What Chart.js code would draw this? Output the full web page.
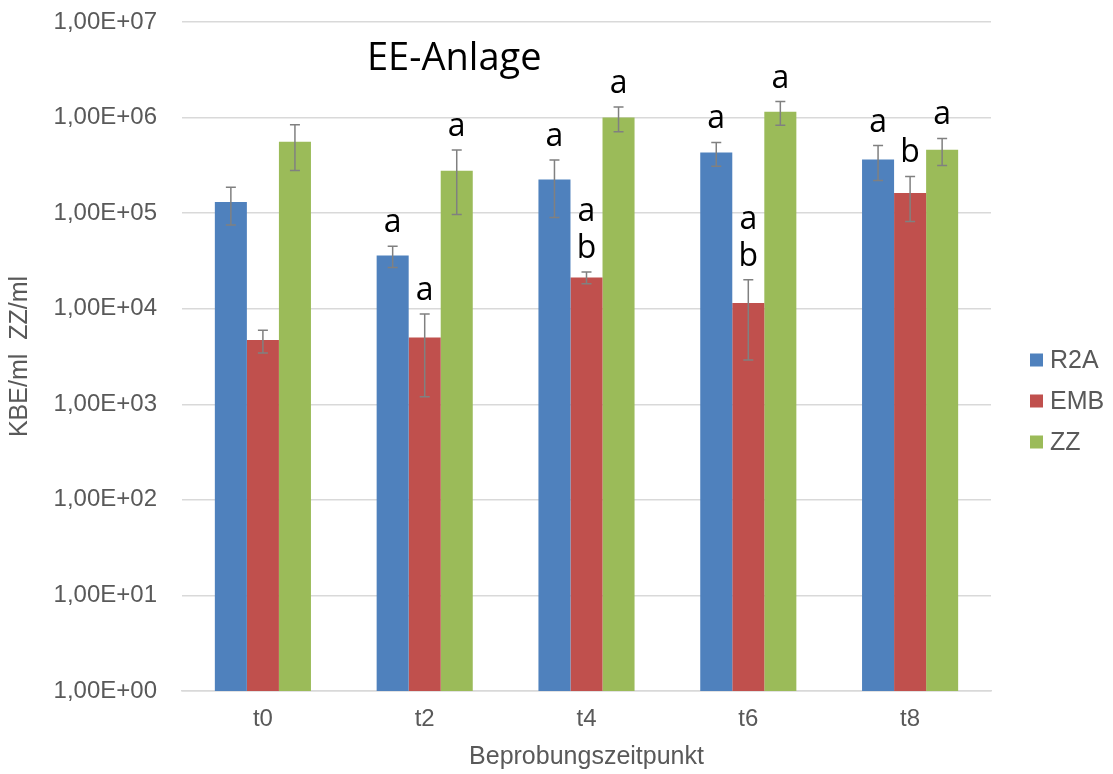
<!DOCTYPE html>
<html>
<head>
<meta charset="utf-8">
<script src="https://cdn.jsdelivr.net/npm/chart.js@4.4.1/dist/chart.umd.min.js"></script>
<style>
  html, body { margin: 0; padding: 0; background: #ffffff; }
  #wrap { width: 1113px; height: 774px; position: relative; }
</style>
</head>
<body>
<div id="wrap"><canvas id="c"></canvas></div>
<script>
// ---- data ----
const categories = ['t0', 't2', 't4', 't6', 't8'];
const seriesNames = ['R2A', 'EMB', 'ZZ'];
const r2aValues = [131000, 36000, 225000, 430000, 365000];
const embValues = [4700, 5000, 21200, 11500, 162000];
const zzValues  = [560000, 277000, 1000000, 1150000, 460000];
const r2aErrors = [56000, 9000, 135000, 120000, 145000];
const embErrors = [1250, 3800, 3000, 8600, 80000];
const zzErrors  = [280000, 180000, 290000, 320000, 145000];
const r2aLetters = ['', 'a', 'a', 'a', 'a'];
const embLetters = ['', 'a', 'a\nb', 'a\nb', 'b'];
const zzLetters  = ['', 'a', 'a', 'a', 'a'];
const yTickValues = [1, 10, 100, 1000, 10000, 100000, 1000000, 10000000];
const yTickLabels = ['1,00E+00', '1,00E+01', '1,00E+02', '1,00E+03', '1,00E+04', '1,00E+05', '1,00E+06', '1,00E+07'];
const chartTitle = 'EE-Anlage';
const yTitle = 'KBE/ml  ZZ/ml';
const xTitle = 'Beprobungszeitpunkt';

const seriesColors = ['#4F81BD', '#C0504D', '#9BBB59'];
const allErrors = [r2aErrors, embErrors, zzErrors];
const allLetters = [r2aLetters, embLetters, zzLetters];

const errorBarPlugin = {
  id: 'errorBars',
  afterDatasetsDraw(chart) {
    const ctx = chart.ctx;
    const y = chart.scales.y;
    ctx.save();
    chart.data.datasets.forEach((ds, i) => {
      const meta = chart.getDatasetMeta(i);
      meta.data.forEach((el, j) => {
        const v = ds.data[j];
        const e = allErrors[i][j];
        const top = y.getPixelForValue(v + e);
        const bot = y.getPixelForValue(Math.max(v - e, 1));
        ctx.strokeStyle = '#808080';
        ctx.lineWidth = 1.5;
        ctx.beginPath();
        ctx.moveTo(el.x, top); ctx.lineTo(el.x, bot);
        ctx.moveTo(el.x - 5, top); ctx.lineTo(el.x + 5, top);
        ctx.moveTo(el.x - 5, bot); ctx.lineTo(el.x + 5, bot);
        ctx.stroke();
        // significance letters
        const txt = allLetters[i][j];
        if (txt) {
          const lines = txt.split('\n');
          ctx.fillStyle = '#000000';
          ctx.font = '32px "Open Sans"';
          ctx.textAlign = 'center';
          ctx.textBaseline = 'alphabetic';
          const base = top - 14;
          for (let k = 0; k < lines.length; k++) {
            const ly = base - (lines.length - 1 - k) * 37;
            ctx.fillText(lines[k], el.x, ly);
          }
        }
      });
    });
    ctx.restore();
  },
  afterDraw(chart) {
    const ctx = chart.ctx;
    const area = chart.chartArea;
    ctx.save();
    // chart title inside plot area
    ctx.fillStyle = '#000000';
    ctx.font = '38px "Open Sans"';
    ctx.textAlign = 'left';
    ctx.textBaseline = 'alphabetic';
    ctx.fillText(chartTitle, area.left + 185, area.top + 48);
    // legend
    ctx.font = '25px "Liberation Sans", Arial, sans-serif';
    ctx.textBaseline = 'middle';
    const legendX = area.right + 39;
    const startY = 360;
    chart.data.datasets.forEach((ds, i) => {
      const cy = startY + i * 41;
      ctx.fillStyle = ds.backgroundColor;
      ctx.fillRect(legendX, cy - 6.5, 13, 13);
      ctx.fillStyle = '#595959';
      ctx.fillText(ds.label, legendX + 20, cy + 1);
    });
    ctx.restore();
  }
};

new Chart(document.getElementById('c'), {
  type: 'bar',
  data: {
    labels: categories,
    datasets: [
      { label: seriesNames[0], data: r2aValues, backgroundColor: seriesColors[0] },
      { label: seriesNames[1], data: embValues, backgroundColor: seriesColors[1] },
      { label: seriesNames[2], data: zzValues,  backgroundColor: seriesColors[2] }
    ]
  },
  options: {
    responsive: true,
    maintainAspectRatio: false,
    animation: false,
    layout: { padding: { top: 22, right: 122, left: 0, bottom: 0 } },
    datasets: { bar: { categoryPercentage: 0.594, barPercentage: 1.0, borderWidth: 0 } },
    plugins: { legend: { display: false }, tooltip: { enabled: false }, title: { display: false } },
    scales: {
      x: {
        grid: { display: false, drawTicks: false },
        border: { display: true, color: '#d9d9d9', width: 1.5 },
        ticks: { color: '#595959', font: { family: '"Liberation Sans", Arial, sans-serif', size: 24 }, padding: 14 },
        title: { display: true, text: xTitle, color: '#595959', font: { family: '"Liberation Sans", Arial, sans-serif', size: 25 }, padding: { top: 0, bottom: 2 } },
        afterFit(scale) { scale.height = 83; }
      },
      y: {
        type: 'logarithmic',
        min: 1,
        max: 10000000,
        grid: { color: '#d9d9d9', lineWidth: 1.5, drawTicks: true, tickLength: 25, tickColor: 'rgba(0,0,0,0)' },
        border: { display: false },
        ticks: {
          color: '#595959',
          font: { family: '"Liberation Sans", Arial, sans-serif', size: 24 },
          padding: 0,
          callback: (value, index) => yTickLabels[index]
        },
        afterBuildTicks(scale) { scale.ticks = yTickValues.map(v => ({ value: v })); },
        title: { display: true, text: yTitle, color: '#595959', font: { family: '"Liberation Sans", Arial, sans-serif', size: 25 }, padding: { top: 5, bottom: 0 } },
        afterFit(scale) { scale.width = 182; }
      }
    }
  },
  plugins: [errorBarPlugin]
});
</script>
</body>
</html>
